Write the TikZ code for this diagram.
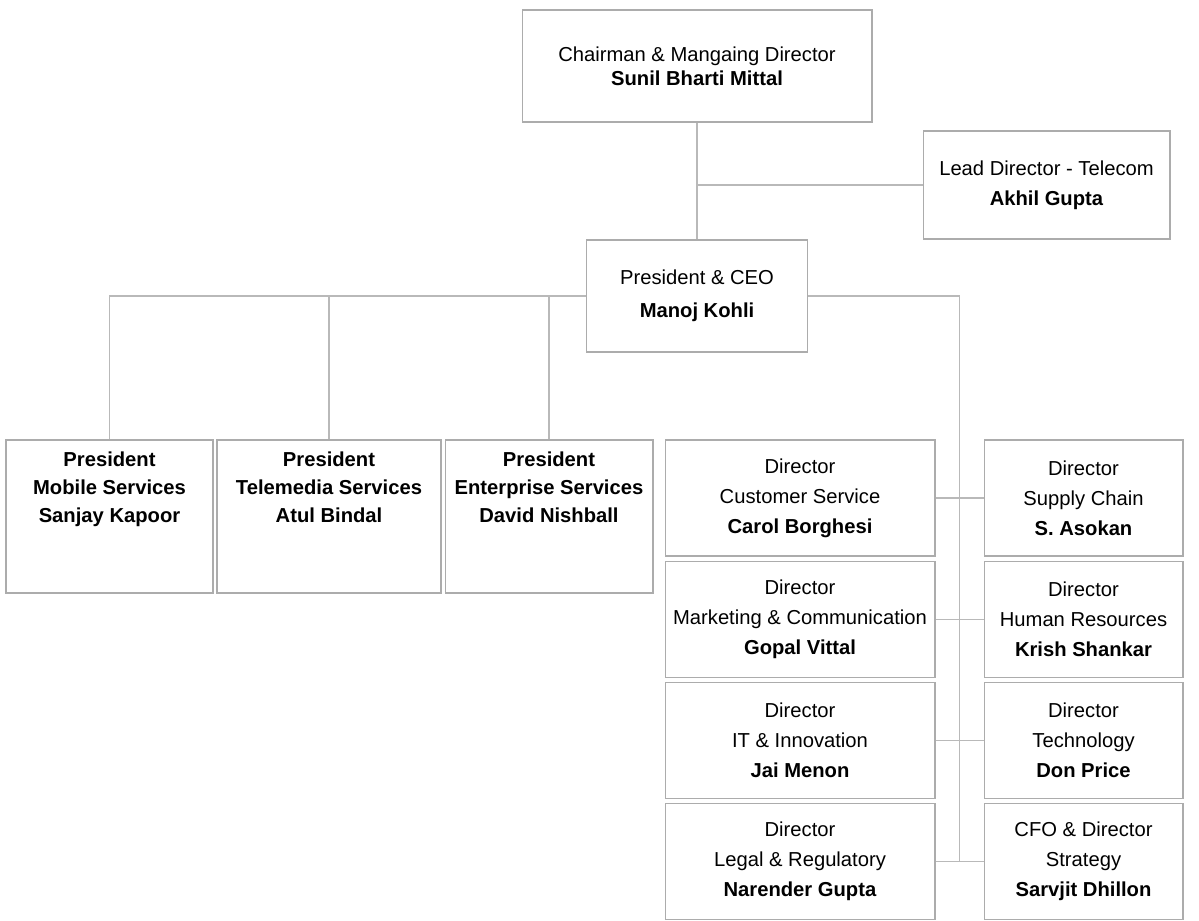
\documentclass[tikz,border=0pt]{standalone}
\usepackage{fontspec}
\setmainfont{Liberation Sans}
\usetikzlibrary{positioning,calc}

\begin{document}
\begin{tikzpicture}[x=0.02cm,y=-0.02cm,box/.style={draw=gray!65,line width=0.6pt,align=center,inner sep=2pt,font=\fontsize{11.5}{17}\selectfont},pbox/.style={box,minimum height=3.06cm},ptext/.style={align=center,inner sep=2pt,font=\bfseries\fontsize{11.5}{16}\selectfont},ldir/.style={box,minimum width=5.4cm,minimum height=2.32cm},rdir/.style={box,minimum width=3.98cm,minimum height=2.32cm},link/.style={draw=gray!55,line width=0.6pt}]
\path[use as bounding box,fill=white] (0,0) rectangle (1199,920);
\node[box,minimum width=7cm,minimum height=2.24cm,font=\fontsize{11.5}{13.5}\selectfont] (chair) at (697,66) {Chairman \& Mangaing Director\\\textbf{Sunil Bharti Mittal}};
\node[box,minimum width=4.94cm,minimum height=2.16cm] (lead) at (1046.5,185) {Lead Director - Telecom\\\textbf{Akhil Gupta}};
\node[box,minimum width=4.42cm,minimum height=2.24cm,font=\fontsize{11.5}{19}\selectfont] (ceo) at (697,296) {President \& CEO\\\textbf{Manoj Kohli}};
\node[pbox,minimum width=4.14cm] (mob) at (109.5,516.5) {};
\node[pbox,minimum width=4.48cm] (tel) at (329,516.5) {};
\node[pbox,minimum width=4.16cm] (ent) at (549,516.5) {};
\node[ptext,below=0.16cm of mob.north] (mobt) {President\\Mobile Services\\Sanjay Kapoor};
\node[ptext,below=0.16cm of tel.north] (telt) {President\\Telemedia Services\\Atul Bindal};
\node[ptext,below=0.16cm of ent.north] (entt) {President\\Enterprise Services\\David Nishball};
\node[ldir] (cs) at (800,498) {Director\\Customer Service\\\textbf{Carol Borghesi}};
\node[ldir,below=0.08cm of cs] (mc) {Director\\Marketing \& Communication\\\textbf{Gopal Vittal}};
\node[ldir,below=0.08cm of mc] (it) {Director\\IT \& Innovation\\\textbf{Jai Menon}};
\node[ldir,below=0.08cm of it] (lr) {Director\\Legal \& Regulatory\\\textbf{Narender Gupta}};
\node[rdir,right=0.96cm of cs] (sc) {Director\\Supply Chain\\\textbf{S. Asokan}};
\node[rdir,right=0.96cm of mc] (hr) {Director\\Human Resources\\\textbf{Krish Shankar}};
\node[rdir,right=0.96cm of it] (tech) {Director\\Technology\\\textbf{Don Price}};
\node[rdir,right=0.96cm of lr] (cfo) {CFO \& Director\\Strategy\\\textbf{Sarvjit Dhillon}};
\coordinate (bus) at ($(lr.east)!.5!(cfo.west)$);
\draw[link] (chair)--(ceo);
\draw[link] (lead.west) -| (chair.south);
\draw[link] (ceo.west) -| (mob.north);\draw[link] (ceo.west) -| (tel.north);\draw[link] (ceo.west) -| (ent.north);
\draw[link] (ceo.east) -| (bus);
\draw[link] (cs)--(sc);\draw[link] (mc)--(hr);\draw[link] (it)--(tech);\draw[link] (lr)--(cfo);
\end{tikzpicture}
\end{document}
